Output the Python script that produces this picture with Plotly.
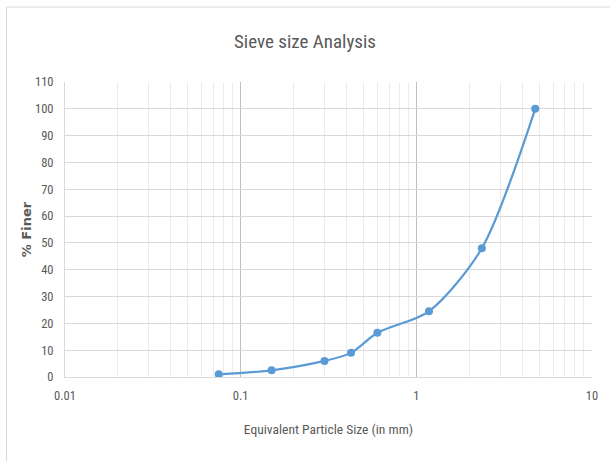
import numpy as np
import plotly.graph_objects as go

particle_size_mm = [0.075, 0.15, 0.3, 0.425, 0.6, 1.18, 2.36, 4.75]
percent_finer = [1, 2.5, 6, 9, 16.5, 24.5, 48, 100]
x_tick_vals = [0.01, 0.1, 1, 10]
x_tick_text = ["0.01", "0.1", "1", "10"]

minor_vals = [m * d for d in [0.01, 0.1, 1] for m in range(2, 10)]

font_fam = "Liberation Sans Narrow, Roboto Condensed, Roboto, sans-serif"

fig = go.Figure()
fig.add_trace(go.Scatter(
    x=particle_size_mm, y=percent_finer, mode="lines+markers",
    line=dict(color="#5B9BD5", width=2.2, shape="spline", smoothing=0.8),
    marker=dict(color="#5B9BD5", size=8, symbol="circle"),
    showlegend=False,
))

fig.update_layout(
    width=610, height=461,
    margin=dict(l=65, r=13, t=82, b=84),
    paper_bgcolor="white", plot_bgcolor="white",
    title=dict(text="Sieve size Analysis", x=0.5, xanchor="center", y=0.911, yanchor="middle",
               font=dict(family=font_fam, size=19, color="#595959")),
    font=dict(family=font_fam, color="#595959", size=12),
    xaxis=dict(
        type="log", range=[-2, 1], tickvals=x_tick_vals, ticktext=x_tick_text,
        showgrid=True, gridcolor="#BFBFBF", gridwidth=1,
        showline=True, linecolor="#D9D9D9", mirror=False,
        ticks="outside", ticklen=7, tickcolor="rgba(0,0,0,0)", zeroline=False,
        minor=dict(tickvals=minor_vals, showgrid=True, gridcolor="#EBEBEB", gridwidth=1, ticks=""),
        title=dict(text="Equivalent Particle Size (in mm)", font=dict(size=13.5, color="#595959"), standoff=22),
        tickfont=dict(size=12.5, color="#595959"),
    ),
    yaxis=dict(
        range=[0, 110], dtick=10, showgrid=True, gridcolor="#D9D9D9", gridwidth=1,
        showline=True, linecolor="#D9D9D9", zeroline=False,
        ticks="outside", ticklen=8, tickcolor="rgba(0,0,0,0)",
        title=dict(text="<b>% Finer</b>", font=dict(size=13, color="#595959", family="DejaVu Sans, sans-serif"), standoff=0),
        tickfont=dict(size=12.5, color="#595959"),
    ),
    shapes=[
        dict(type="line", xref="paper", yref="paper", x0=-0.111, x1=1.1, y0=1.254, y1=1.254,
             line=dict(color="#D9D9D9", width=1), layer="below"),
        dict(type="line", xref="paper", yref="paper", x0=-0.111, x1=-0.111, y0=-0.3, y1=1.254,
             line=dict(color="#D9D9D9", width=1), layer="below"),
    ],
)

fig.write_html("out.html", config={"displayModeBar": False},
               post_script="document.body.style.margin='0px';")
